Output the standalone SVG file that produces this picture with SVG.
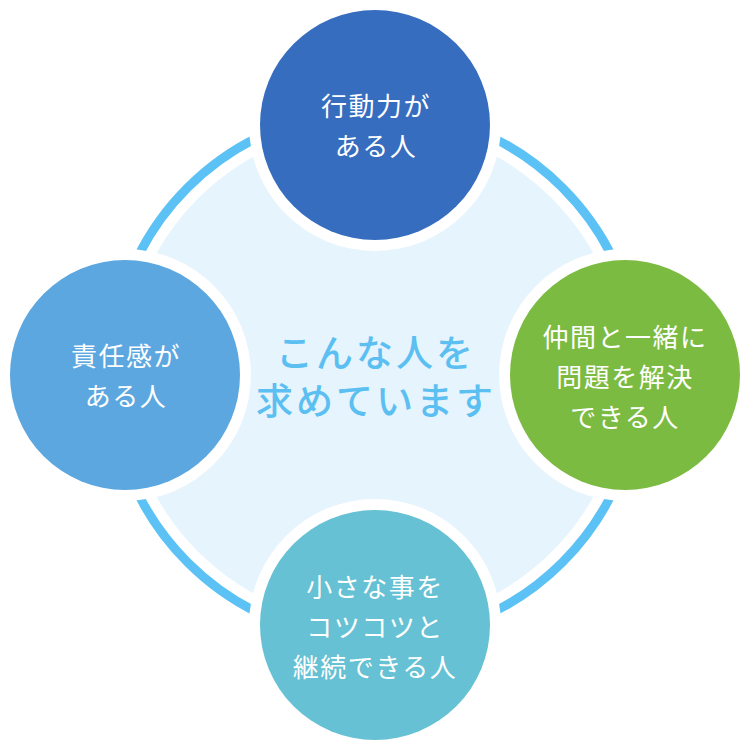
<svg xmlns="http://www.w3.org/2000/svg" width="750" height="750" viewBox="0 0 750 750">
<style>
.halo{fill:#ffffff}
.lbl{font-family:"Noto Sans CJK JP","Noto Sans",sans-serif;font-size:26px;fill:#ffffff;text-anchor:middle;letter-spacing:1.5px}
.title{font-family:"Noto Sans CJK JP","Noto Sans",sans-serif;font-size:37px;font-weight:500;fill:#5cbff2;text-anchor:middle;letter-spacing:3px}
</style>
<rect width="750" height="750" fill="#ffffff"/>
<g id="hub">
<circle cx="375" cy="375" r="265" fill="none" stroke="#5cc2f5" stroke-width="9"/>
<circle cx="375" cy="375" r="250" fill="#e6f4fd"/>
<text class="title"><tspan x="376" y="367">こんな人を</tspan><tspan x="376" y="415">求めています</tspan></text>
</g>
<g id="connectors"></g>
<g id="node-top">
<circle class="halo" cx="375" cy="125" r="126"/>
<circle cx="375" cy="125" r="115" fill="#366dbf"/>
<text class="lbl"><tspan x="376" y="116">行動力が</tspan><tspan x="376" y="156">ある人</tspan></text>
</g>
<g id="node-left">
<circle class="halo" cx="125" cy="375" r="126"/>
<circle cx="125" cy="375" r="115" fill="#5ca7e0"/>
<text class="lbl"><tspan x="126" y="366">責任感が</tspan><tspan x="126" y="406">ある人</tspan></text>
</g>
<g id="node-right">
<circle class="halo" cx="625" cy="375" r="126"/>
<circle cx="625" cy="375" r="115" fill="#7cbb42"/>
<text class="lbl"><tspan x="625" y="347">仲間と一緒に</tspan><tspan x="625" y="387">問題を解決</tspan><tspan x="625" y="427">できる人</tspan></text>
</g>
<g id="node-bottom">
<circle class="halo" cx="375" cy="625" r="126"/>
<circle cx="375" cy="625" r="115" fill="#65c1d3"/>
<text class="lbl"><tspan x="375" y="597">小さな事を</tspan><tspan x="375" y="637">コツコツと</tspan><tspan x="375" y="677">継続できる人</tspan></text>
</g>
</svg>
